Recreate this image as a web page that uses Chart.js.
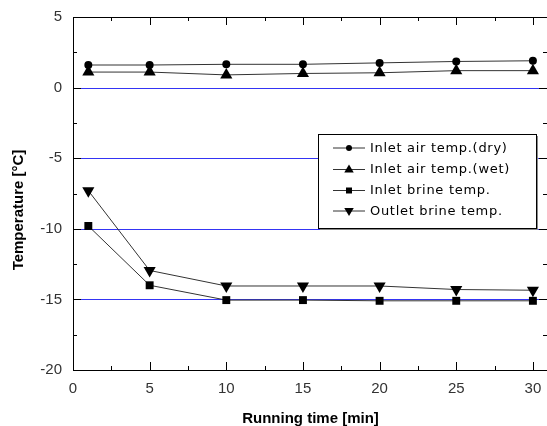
<!DOCTYPE html>
<html>
<head>
<meta charset="utf-8">
<script src="https://cdn.jsdelivr.net/npm/chart.js@4.4.0/dist/chart.umd.min.js"></script>
<style>
  html, body { margin:0; padding:0; background:#fff; }
  #wrap { width:547px; height:426px; }
</style>
</head>
<body>
<div id="wrap"><canvas id="chart"></canvas></div>
<script>
// ---------- Data ----------
const times    = [1, 5, 10, 15, 20, 25, 30];
const dryAir   = [1.6, 1.6, 1.65, 1.65, 1.75, 1.85, 1.9];
const wetAir   = [1.1, 1.1, 0.9, 1.0, 1.05, 1.2, 1.2];
const brineIn  = [-9.8, -14.0, -15.05, -15.05, -15.1, -15.1, -15.1];
const brineOut = [-7.3, -12.95, -14.05, -14.05, -14.05, -14.3, -14.35];
const seriesNames = ['Inlet air temp.(dry)', 'Inlet air temp.(wet)', 'Inlet brine temp.', 'Outlet brine temp.'];

const xTicks = [0, 5, 10, 15, 20, 25, 30];
const yTicks = [-20, -15, -10, -5, 0, 5];
const xMinor = [2.5, 7.5, 12.5, 17.5, 22.5, 27.5];
const yMinor = [2.5, -2.5, -7.5, -12.5, -17.5];
const blueLines = [0, -5, -10, -15];

const xTitle = 'Running time [min]';
const yTitle = 'Temperature [°C]';

// ---------- Helpers ----------
const pts = ys => times.map((t, i) => ({ x: t, y: ys[i] }));
const INK = '#000';
const LINE = '#333';
const BLUE = '#3434f4';
const TICK_FONT = { family: '"Liberation Sans", Arial, sans-serif', size: 15 };

function series(label, ys, style, r, rot){
  return {
    label, data: pts(ys),
    borderColor: LINE, borderWidth: 1,
    pointStyle: style, pointRadius: r, pointHoverRadius: r,
    pointRotation: rot || 0,
    pointBackgroundColor: INK, pointBorderColor: INK, pointBorderWidth: 0,
    tension: 0, fill: false
  };
}

// fixed axis box, no label overflow padding
function fixBox(size){
  return s => {
    if (s.isHorizontal()) s.height = size; else s.width = size;
    s.paddingTop = s.paddingBottom = s.paddingLeft = s.paddingRight = 0;
  };
}

function marker(ctx, style, x, y, r, rot){
  ctx.beginPath();
  if (style === 'circle') {
    ctx.arc(x, y, r, 0, Math.PI * 2);
  } else if (style === 'rect') {
    ctx.rect(x - r, y - r, 2 * r, 2 * r);
  } else {
    const s = rot ? 1 : -1;
    ctx.moveTo(x, y + s * r);
    ctx.lineTo(x - r * 0.95, y - s * r * 0.6);
    ctx.lineTo(x + r * 0.95, y - s * r * 0.6);
    ctx.closePath();
  }
  ctx.fill();
}

// blue reference lines under the data
const refLines = {
  id: 'refLines',
  beforeDatasetsDraw(chart){
    const { ctx, chartArea: a, scales: { y } } = chart;
    ctx.save();
    ctx.strokeStyle = BLUE; ctx.lineWidth = 1;
    ctx.beginPath();
    for (const v of blueLines) {
      const py = Math.round(y.getPixelForValue(v)) + 0.5;
      ctx.moveTo(a.left, py); ctx.lineTo(a.right, py);
    }
    ctx.stroke();
    ctx.restore();
  }
};

// frame: top/right border and inward ticks
const frame = {
  id: 'frame',
  afterDatasetsDraw(chart){
    const { ctx, chartArea: a, scales: { x, y } } = chart;
    ctx.save();
    ctx.strokeStyle = INK; ctx.lineWidth = 1;
    ctx.beginPath();
    ctx.moveTo(a.left, a.top + 0.5); ctx.lineTo(a.right, a.top + 0.5);
    ctx.moveTo(a.right + 0.5, a.top); ctx.lineTo(a.right + 0.5, a.bottom);
    for (const v of xTicks.slice(1)) {
      const px = Math.round(x.getPixelForValue(v)) + 0.5;
      ctx.moveTo(px, a.bottom); ctx.lineTo(px, a.bottom - 8);
      ctx.moveTo(px, a.top); ctx.lineTo(px, a.top + 8);
    }
    for (const v of xMinor) {
      const px = Math.round(x.getPixelForValue(v)) + 0.5;
      ctx.moveTo(px, a.bottom); ctx.lineTo(px, a.bottom - 4);
      ctx.moveTo(px, a.top); ctx.lineTo(px, a.top + 4);
    }
    for (const v of blueLines) {
      const py = Math.round(y.getPixelForValue(v)) + 0.5;
      ctx.moveTo(a.left, py); ctx.lineTo(a.left + 8, py);
      ctx.moveTo(a.right, py); ctx.lineTo(a.right - 8, py);
    }
    for (const v of yMinor) {
      const py = Math.round(y.getPixelForValue(v)) + 0.5;
      ctx.moveTo(a.left, py); ctx.lineTo(a.left + 4, py);
      ctx.moveTo(a.right, py); ctx.lineTo(a.right - 4, py);
    }
    ctx.stroke();
    ctx.restore();
  }
};

// legend box inside the plot
const boxLegend = {
  id: 'boxLegend',
  afterDraw(chart){
    const { ctx } = chart;
    const L = 318, T = 134, W = 218, H = 94;
    ctx.save();
    ctx.fillStyle = '#888';
    ctx.fillRect(L + 2, T + 2, W, H);
    ctx.fillStyle = '#fff';
    ctx.fillRect(L, T, W, H);
    ctx.strokeStyle = INK; ctx.lineWidth = 1;
    ctx.strokeRect(L + 0.5, T + 0.5, W, H);
    const rows = [147.5, 169, 190, 210.5];
    const legMarks = [['circle', 3, 0], ['tri', 5, 0], ['rect', 3, 0], ['tri', 5, 1]];
    ctx.font = '13px "DejaVu Sans"';
    ctx.letterSpacing = '0.7px';
    ctx.textBaseline = 'middle';
    chart.data.datasets.forEach((ds, i) => {
      const yy = rows[i];
      ctx.strokeStyle = LINE;
      ctx.beginPath(); ctx.moveTo(333, yy + 0.5); ctx.lineTo(365, yy + 0.5); ctx.stroke();
      ctx.fillStyle = INK;
      const m = legMarks[i];
      marker(ctx, m[0], 349, yy + 0.5, m[1], m[2]);
      ctx.fillText(ds.label, 370, yy + 1);
    });
    ctx.restore();
  }
};

// axis titles
const axisTitles = {
  id: 'axisTitles',
  afterDraw(chart){
    const { ctx } = chart;
    ctx.save();
    ctx.fillStyle = INK;
    ctx.font = 'bold 15px "Liberation Sans", Arial, sans-serif';
    ctx.textAlign = 'center'; ctx.textBaseline = 'middle';
    ctx.fillText(xTitle, 310.5, 419);
    ctx.translate(19, 210);
    ctx.rotate(-Math.PI / 2);
    ctx.fillText(yTitle, 0, 0);
    ctx.restore();
  }
};

new Chart(document.getElementById('chart'), {
  type: 'line',
  data: {
    datasets: [
      series(seriesNames[0], dryAir, 'circle', 4),
      series(seriesNames[1], wetAir, 'triangle', 7),
      series(seriesNames[2], brineIn, 'rect', 5.6),
      series(seriesNames[3], brineOut, 'triangle', 7, 180)
    ]
  },
  options: {
    responsive: true,
    maintainAspectRatio: false,
    animation: false,
    layout: { autoPadding: false, padding: { left: 0, top: 17, right: 0, bottom: 0 } },
    plugins: { legend: { display: false }, tooltip: { enabled: false } },
    scales: {
      x: {
        type: 'linear', min: 0, max: 30.92,
        afterFit: fixBox(56),
        afterBuildTicks(s){ s.ticks = xTicks.map(v => ({ value: v })); },
        grid: { display: false, drawTicks: false },
        border: { display: true, color: INK, width: 1 },
        ticks: { padding: 10, color: '#333', font: TICK_FONT }
      },
      y: {
        type: 'linear', min: -20, max: 5,
        afterFit: fixBox(73),
        afterBuildTicks(s){ s.ticks = yTicks.map(v => ({ value: v })); },
        grid: { display: false, drawTicks: false },
        border: { display: true, color: INK, width: 1 },
        ticks: { padding: 11, color: '#333', font: TICK_FONT }
      }
    }
  },
  plugins: [refLines, frame, boxLegend, axisTitles]
});
</script>
</body>
</html>
